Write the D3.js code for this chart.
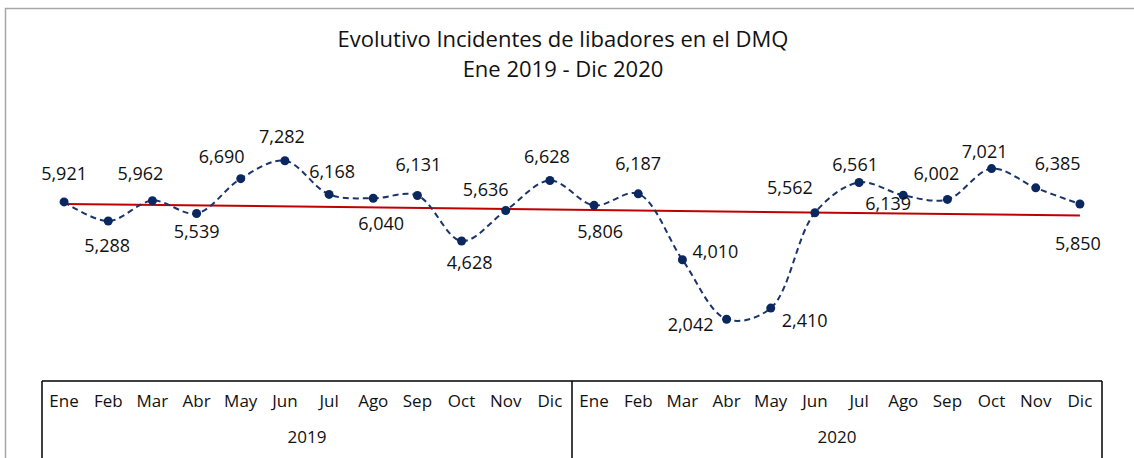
<!DOCTYPE html>
<html>
<head>
<meta charset="utf-8">
<script src="https://cdn.jsdelivr.net/npm/d3@7"></script>
<style>
  html, body { margin: 0; padding: 0; background: #fff; }
  svg text { font-family: "Open Sans", "Noto Sans", sans-serif; fill: #111; }
</style>
</head>
<body>
<svg id="chart" width="1134" height="458"></svg>
<script>
"use strict";

// ── datos ──
const years = ["2019", "2020"];
const months = ["Ene", "Feb", "Mar", "Abr", "May", "Jun", "Jul", "Ago", "Sep", "Oct", "Nov", "Dic"];
const incidents2019 = [5921, 5288, 5962, 5539, 6690, 7282, 6168, 6040, 6131, 4628, 5636, 6628];
const incidents2020 = [5806, 6187, 4010, 2042, 2410, 5562, 6561, 6139, 6002, 7021, 6385, 5850];
const titleLines = ["Evolutivo Incidentes de libadores en el DMQ", "Ene 2019 - Dic 2020"];

// desplazamiento manual de etiquetas (dx, dy de la línea base respecto al punto)
const labelNudge = [
  [0, -22], [-1, 31], [-12, -21], [0, 25], [-19, -16], [-3, -18],
  [3, -16], [8, 32], [1, -25], [8, 28], [-20, -15], [-3, -18],
  [6, 33], [0, -24], [33, -2], [-36, 12], [34, 19], [-25, -19],
  [-4, -12], [-15, 15], [-11, -19], [-7, -11], [22, -18], [-2, 46]
];

const series = [
  ...incidents2019.map((v, i) => ({ year: years[0], month: months[i], value: v })),
  ...incidents2020.map((v, i) => ({ year: years[1], month: months[i], value: v }))
];
series.forEach((d, i) => { d.key = d.year + "-" + d.month; d.idx = i; });

const svg = d3.select("#chart");
const axisTop = 381, axisBottom = 458, left = 42, right = 1102;

const x = d3.scaleBand()
  .domain(series.map(d => d.key))
  .range([left, right]);
const cx = k => x(k) + x.bandwidth() / 2;

const y = d3.scaleLinear()
  .domain([0, 8000])
  .range([axisTop, 139]);

// marco exterior
svg.append("path")
  .attr("d", "M5.5,458 V8.5 H1134")
  .attr("fill", "none")
  .attr("stroke", "#a6a6a6")
  .attr("stroke-width", 1.5);

// título
svg.append("g")
  .selectAll("text")
  .data(titleLines)
  .join("text")
  .attr("x", 563)
  .attr("y", (d, i) => 47 + i * 30)
  .attr("text-anchor", "middle")
  .style("font-size", "22px")
  .text(d => d);

// línea de tendencia (mínimos cuadrados)
const xm = d3.mean(series, d => d.idx);
const ym = d3.mean(series, d => d.value);
const slope = d3.sum(series, d => (d.idx - xm) * (d.value - ym)) /
              d3.sum(series, d => (d.idx - xm) ** 2);
const fit = i => ym + slope * (i - xm);
const first = series[0], last = series[series.length - 1];

svg.append("line")
  .attr("x1", cx(first.key)).attr("y1", y(fit(first.idx)))
  .attr("x2", cx(last.key)).attr("y2", y(fit(last.idx)))
  .attr("stroke", "#c00000")
  .attr("stroke-width", 2);

// serie suavizada
const line = d3.line()
  .x(d => cx(d.key))
  .y(d => y(d.value))
  .curve(d3.curveCatmullRom.alpha(0.5));

svg.append("path")
  .datum(series)
  .attr("d", line)
  .attr("fill", "none")
  .attr("stroke", "#1a356b")
  .attr("stroke-width", 2)
  .attr("stroke-dasharray", "6,4");

svg.append("g")
  .selectAll("circle")
  .data(series)
  .join("circle")
  .attr("cx", d => cx(d.key))
  .attr("cy", d => y(d.value))
  .attr("r", 4.5)
  .attr("fill", "#0b2760");

// etiquetas de datos
const fmt = d3.format(",");
svg.append("g")
  .selectAll("text")
  .data(series)
  .join("text")
  .attr("x", d => cx(d.key) + labelNudge[d.idx][0])
  .attr("y", d => y(d.value) + labelNudge[d.idx][1])
  .attr("text-anchor", "middle")
  .style("font-size", "18px")
  .text(d => fmt(d.value));

// eje de categorías en dos niveles
const axis = svg.append("g");
axis.append("line")
  .attr("x1", left).attr("x2", right)
  .attr("y1", axisTop).attr("y2", axisTop)
  .attr("stroke", "#000").attr("stroke-width", 1.5);

const yearEdges = years.map(yr => {
  const keys = series.filter(d => d.year === yr).map(d => d.key);
  return { year: yr, x0: x(keys[0]), x1: x(keys[keys.length - 1]) + x.bandwidth() };
});
const dividers = [yearEdges[0].x0, ...yearEdges.map(e => e.x1)];

axis.selectAll("line.div")
  .data(dividers)
  .join("line")
  .attr("class", "div")
  .attr("x1", d => d).attr("x2", d => d)
  .attr("y1", axisTop).attr("y2", axisBottom)
  .attr("stroke", "#000").attr("stroke-width", 1.5);

axis.selectAll("text.month")
  .data(series)
  .join("text")
  .attr("class", "month")
  .attr("x", d => cx(d.key))
  .attr("y", 407)
  .attr("text-anchor", "middle")
  .style("font-size", "17px")
  .text(d => d.month);

axis.selectAll("text.year")
  .data(yearEdges)
  .join("text")
  .attr("class", "year")
  .attr("x", d => (d.x0 + d.x1) / 2)
  .attr("y", 443)
  .attr("text-anchor", "middle")
  .style("font-size", "17px")
  .text(d => d.year);
</script>
</body>
</html>
